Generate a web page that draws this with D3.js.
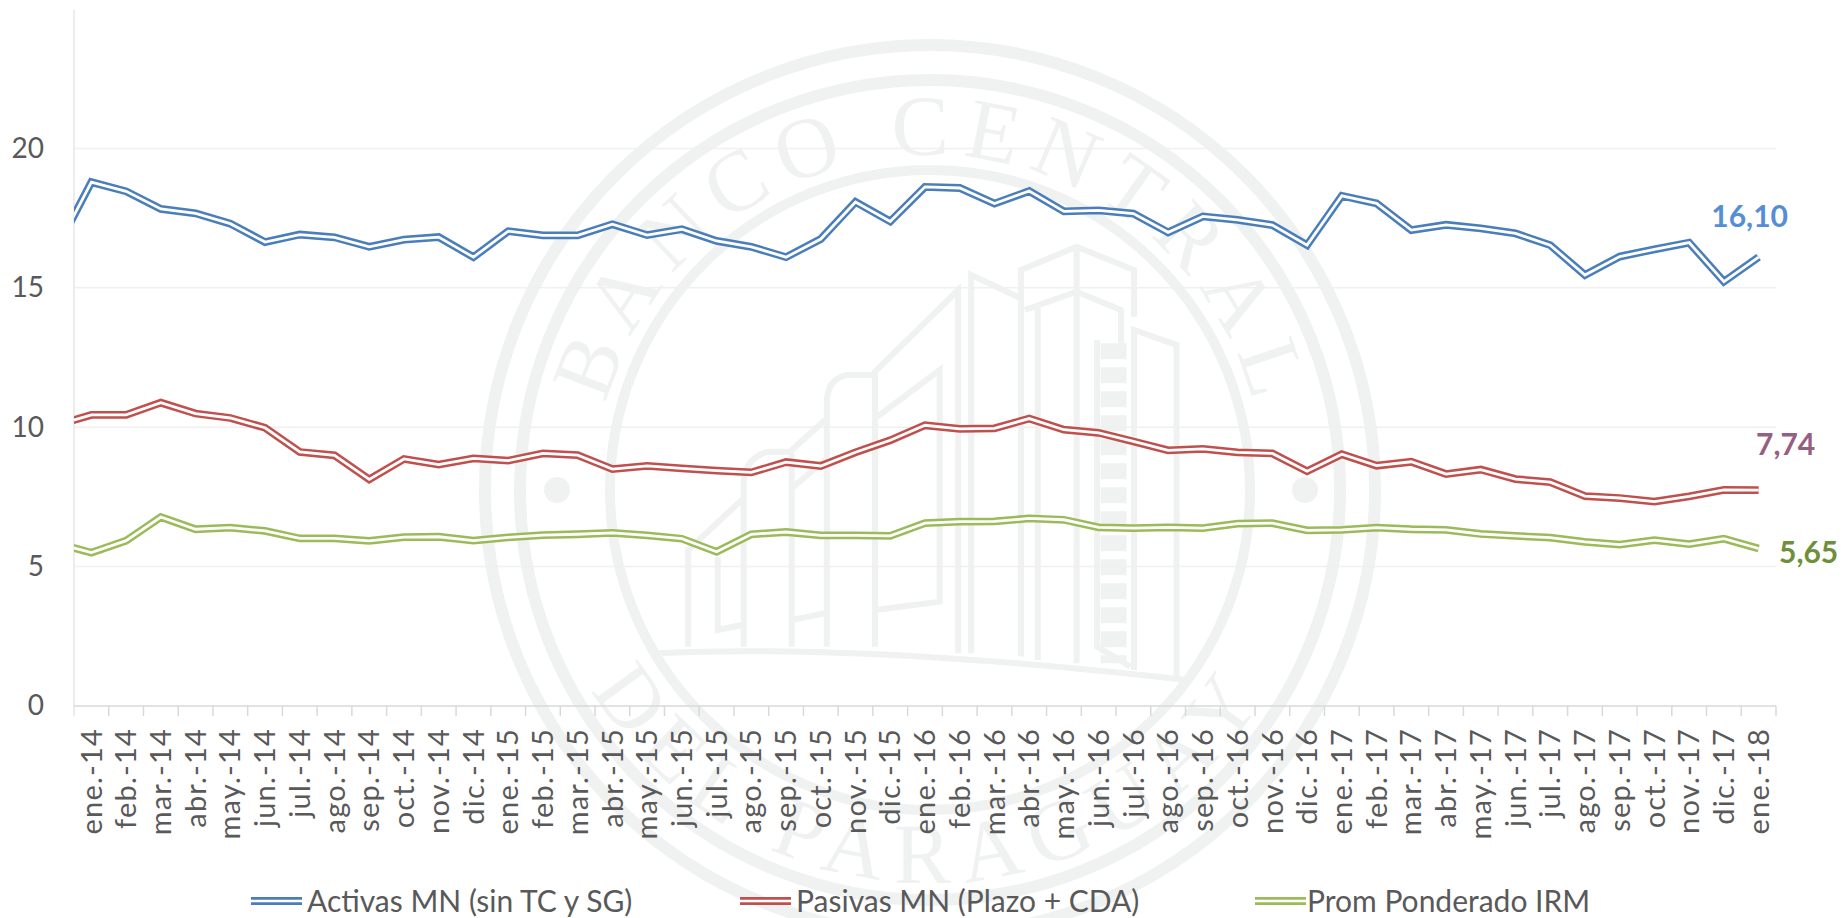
<!DOCTYPE html>
<html lang="es">
<head>
<meta charset="utf-8">
<title>Tasas MN</title>
<script src="https://cdn.jsdelivr.net/npm/d3@7/dist/d3.min.js"></script>
<style>
    body { margin: 0; background: #fff; overflow: hidden; }
    text { font-family: Lato, "Open Sans", sans-serif; fill: #595959; }
</style>
</head>
<body>
<script>
// dic.-13 is only there for the stub of line that the y axis cuts off
const hiddenMonth = 'dic.-13'
const months = [
    'ene.-14', 'feb.-14', 'mar.-14', 'abr.-14', 'may.-14', 'jun.-14', 'jul.-14', 'ago.-14', 'sep.-14', 'oct.-14', 'nov.-14', 'dic.-14',
    'ene.-15', 'feb.-15', 'mar.-15', 'abr.-15', 'may.-15', 'jun.-15', 'jul.-15', 'ago.-15', 'sep.-15', 'oct.-15', 'nov.-15', 'dic.-15',
    'ene.-16', 'feb.-16', 'mar.-16', 'abr.-16', 'may.-16', 'jun.-16', 'jul.-16', 'ago.-16', 'sep.-16', 'oct.-16', 'nov.-16', 'dic.-16',
    'ene.-17', 'feb.-17', 'mar.-17', 'abr.-17', 'may.-17', 'jun.-17', 'jul.-17', 'ago.-17', 'sep.-17', 'oct.-17', 'nov.-17', 'dic.-17',
    'ene.-18'
]
const activas = [16.4,
    18.79, 18.46, 17.83, 17.67, 17.30, 16.64, 16.91, 16.81, 16.47, 16.73, 16.82, 16.10,
    17.03, 16.88, 16.88, 17.28, 16.89, 17.10, 16.68, 16.47, 16.10, 16.75, 18.08, 17.38,
    18.62, 18.58, 18.02, 18.47, 17.74, 17.78, 17.66, 16.99, 17.56, 17.44, 17.25, 16.53,
    18.30, 18.03, 17.07, 17.26, 17.13, 16.95, 16.53, 15.46, 16.12, 16.38, 16.62, 15.22,
    16.10]
const pasivas = [10.08,
    10.44, 10.44, 10.88, 10.49, 10.33, 9.98, 9.11, 8.99, 8.13, 8.86, 8.66, 8.88,
    8.80, 9.06, 9.00, 8.50, 8.61, 8.52, 8.44, 8.38, 8.75, 8.61, 9.10, 9.53,
    10.07, 9.94, 9.96, 10.31, 9.91, 9.80, 9.49, 9.17, 9.22, 9.10, 9.06, 8.42,
    9.03, 8.62, 8.76, 8.32, 8.48, 8.14, 8.03, 7.53, 7.46, 7.33, 7.52, 7.75,
    7.74]
const irm = [5.83,
    5.50, 5.93, 6.78, 6.34, 6.40, 6.28, 6.01, 6.01, 5.92, 6.06, 6.07, 5.93,
    6.05, 6.13, 6.16, 6.21, 6.12, 6.00, 5.53, 6.16, 6.24, 6.12, 6.12, 6.10,
    6.56, 6.61, 6.62, 6.73, 6.68, 6.41, 6.38, 6.41, 6.38, 6.54, 6.56, 6.30,
    6.32, 6.40, 6.34, 6.32, 6.17, 6.10, 6.04, 5.89, 5.79, 5.95, 5.81, 6.00,
    5.65]
const yTicks = [0, 5, 10, 15, 20]
const seriesNames = ['Activas MN (sin TC y SG)', 'Pasivas MN (Plazo + CDA)', 'Prom Ponderado IRM']
const seriesValues = [activas, pasivas, irm]
const seriesColors = ['#4a7ebb', '#c0504d', '#9bbb59']
const endLabels = ['16,10', '7,74', '5,65']
const endLabelColors = ['#558ed5', '#95607f', '#6f8f3a']

const width = 1843
const height = 918
const plotLeft = 74
const plotRight = 1776
const plotTop = 10
const plotBottom = 706
const step = (plotRight - plotLeft) / months.length
const wmColor = '#eff2f1'

const svg = d3.select('body').append('svg').attr('width', width).attr('height', height)

// watermark seal
const wm = svg.append('g').attr('id', 'watermark')
const cx = 930
const cy = 490
wm.selectAll('circle.ring').data([[445, 12], [410, 12], [320, 10]]).enter().append('circle')
    .attr('class', 'ring').attr('cx', cx).attr('cy', cy).attr('r', (d) => d[0])
    .attr('fill', 'none').attr('stroke', wmColor).attr('stroke-width', (d) => d[1])
wm.selectAll('circle.dot').data([-373, 375]).enter().append('circle')
    .attr('class', 'dot').attr('cx', (d) => cx + d).attr('cy', cy).attr('r', 13).attr('fill', wmColor)

const defs = svg.append('defs')
const rTop = 335
const rBottom = 393
defs.append('path').attr('id', 'arcTop')
    .attr('d', `M${cx - rTop},${cy} A${rTop},${rTop} 0 0 1 ${cx + rTop},${cy}`)
defs.append('path').attr('id', 'arcBottom')
    .attr('d', `M${cx - rBottom},${cy} A${rBottom},${rBottom} 0 0 0 ${cx + rBottom},${cy}`)
defs.append('clipPath').attr('id', 'plotClip').append('rect')
    .attr('x', plotLeft).attr('y', plotTop).attr('width', plotRight - plotLeft).attr('height', plotBottom - plotTop)

const sealText = [['#arcTop', 'BANCO CENTRAL', '50.5%', 13], ['#arcBottom', 'DEL PARAGUAY', '50%', 14]]
sealText.forEach((s) => {
    wm.append('text')
        .style('font-family', '"Liberation Serif", serif')
        .style('fill', wmColor)
        .style('font-size', '86px')
        .style('letter-spacing', s[3] + 'px')
        .append('textPath').attr('href', s[0]).attr('startOffset', s[2]).attr('text-anchor', 'middle').text(s[1])
})

// building, traced in a 2.703 x 3 zoomed frame of the seal
const buildingPaths = [
    'M1030,1280 V120 L1180,50 L1335,120 V260', 'M1040,240 L1180,185 L1300,240 V350', 'M1180,50 V1300', 'M1075,235 V1290',
    'M895,1270 V135 L1030,205', 'M860,1270 V180 L635,425 V1250', 'M635,435 H560 Q505,445 505,520 V1250',
    'M635,565 L810,420 V1115 L635,1140', 'M500,570 L405,665 H350 Q280,680 280,770 V1250', 'M410,670 V1250',
    'M500,690 L410,775', 'M500,1150 L410,1170', 'M275,810 L130,960 V1250', 'M210,980 V1200 L275,1185',
    'M1335,1320 V300 L1450,345 V1340', 'M1235,330 V1250 L1325,1310', 'M40,1270 Q600,1240 1480,1350'
]
const building = wm.append('g').attr('transform', 'translate(640,230) scale(0.37,0.3333)')
building.selectAll('path').data(buildingPaths).enter().append('path')
    .attr('d', (d) => d)
    .attr('fill', 'none').attr('stroke', wmColor).attr('stroke-width', 6)
    .attr('vector-effect', 'non-scaling-stroke')
// ladder column on the tall tower
building.append('path').attr('d', 'M1280,340 V1300')
    .attr('fill', 'none').attr('stroke', wmColor).attr('stroke-width', 26)
    .attr('stroke-dasharray', '16 8')
    .attr('vector-effect', 'non-scaling-stroke')

const xScale = d3.scaleBand().domain([hiddenMonth, ...months]).range([plotLeft - step, plotRight])
const yScale = d3.scaleLinear().domain([0, 25]).range([plotBottom, plotBottom - 25 * 27.88])
const xMid = (m) => xScale(m) + xScale.bandwidth() / 2

// grid and axes
svg.append('g').selectAll('line').data(yTicks.filter((t) => t > 0)).enter().append('line')
    .attr('x1', plotLeft).attr('x2', plotRight)
    .attr('y1', (d) => yScale(d)).attr('y2', (d) => yScale(d))
    .attr('stroke', '#f0f0f0').attr('stroke-width', 1.5)

svg.append('line').attr('x1', plotLeft).attr('x2', plotLeft).attr('y1', plotTop).attr('y2', plotBottom + 10)
    .attr('stroke', '#e6e6e6').attr('stroke-width', 1.5)

const yAxis = d3.axisLeft(yScale).tickValues(yTicks).tickSize(0).tickPadding(30)
const yGroup = svg.append('g').attr('transform', `translate(${plotLeft},0)`).call(yAxis)
yGroup.select('.domain').remove()
yGroup.selectAll('text').style('font-size', '28px').style('font-family', null)

svg.append('line').attr('x1', plotLeft).attr('x2', plotRight).attr('y1', plotBottom).attr('y2', plotBottom)
    .attr('stroke', '#d9d9d9').attr('stroke-width', 1.5)
svg.append('g').selectAll('line').data([...months.slice(1), null]).enter().append('line')
    .attr('x1', (d) => d ? xScale(d) : plotRight).attr('x2', (d) => d ? xScale(d) : plotRight)
    .attr('y1', plotBottom).attr('y2', plotBottom + 10)
    .attr('stroke', '#d9d9d9').attr('stroke-width', 1.5)

svg.append('g').selectAll('text').data(months).enter().append('text')
    .attr('transform', (d) => `translate(${xMid(d)},${plotBottom + 22}) rotate(-90)`)
    .attr('text-anchor', 'end').attr('dy', '0.35em')
    .style('font-size', '29px').style('letter-spacing', '1.2px')
    .text((d) => d)

// double lines: wide coloured stroke with a white core
const lineGen = d3.line().x((d) => xMid(d.month)).y((d) => yScale(d.value))
const lines = svg.append('g').attr('clip-path', 'url(#plotClip)')
seriesValues.forEach((values, i) => {
    const points = values.map((v, j) => ({ month: j === 0 ? hiddenMonth : months[j - 1], value: v }))
    lines.append('path').datum(points).attr('d', lineGen)
        .attr('fill', 'none').attr('stroke', seriesColors[i]).attr('stroke-width', 7.8)
        .attr('stroke-linejoin', 'miter')
    lines.append('path').datum(points).attr('d', lineGen)
        .attr('fill', 'none').attr('stroke', '#fff').attr('stroke-width', 2.8)
        .attr('stroke-linejoin', 'miter')
})

// end labels
const lastMonth = months[months.length - 1]
const labelOffsets = [[-9, -41], [27, -46], [50, 4]]
endLabels.forEach((t, i) => {
    const v = seriesValues[i][seriesValues[i].length - 1]
    svg.append('text')
        .attr('x', xMid(lastMonth) + labelOffsets[i][0]).attr('y', yScale(v) + labelOffsets[i][1])
        .attr('text-anchor', 'middle').attr('dy', '0.35em')
        .style('font-size', '30px').style('font-weight', 700)
        .style('fill', endLabelColors[i])
        .text(t)
})

// legend
const legendKeyX = [251, 740, 1255]
const legendTextX = [56, 56, 52]
const legend = svg.append('g')
seriesNames.forEach((name, i) => {
    const g = legend.append('g').attr('transform', `translate(${legendKeyX[i]},901)`)
    g.append('line').attr('x1', 0).attr('x2', 51).attr('y1', 0).attr('y2', 0)
        .attr('stroke', seriesColors[i]).attr('stroke-width', 7.8)
    g.append('line').attr('x1', 0).attr('x2', 51).attr('y1', 0).attr('y2', 0)
        .attr('stroke', '#fff').attr('stroke-width', 2.4)
    g.append('text').attr('x', legendTextX[i]).attr('dy', '0.35em').style('font-size', '30px').text(name)
})
</script>
</body>
</html>
